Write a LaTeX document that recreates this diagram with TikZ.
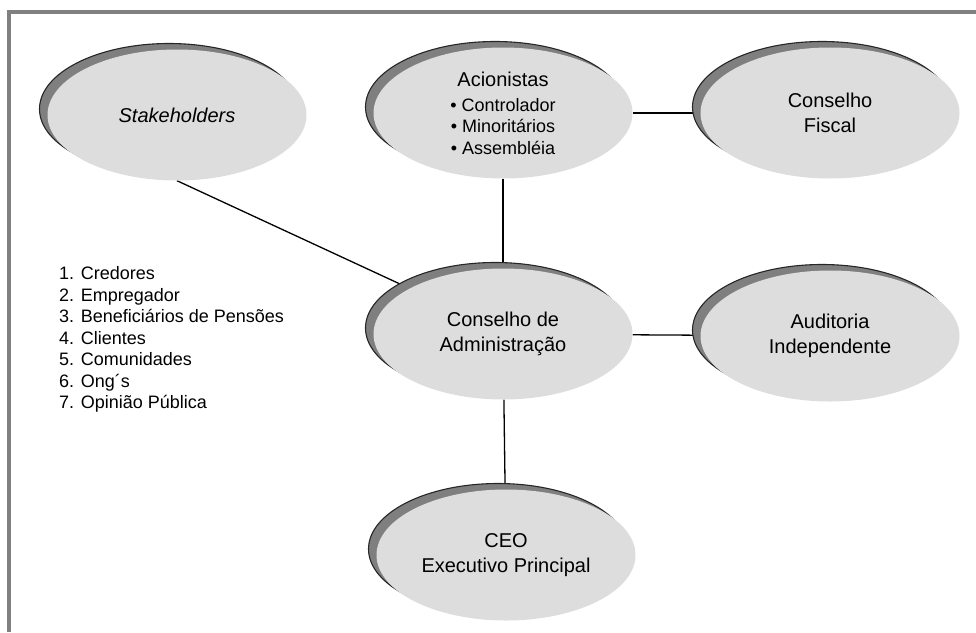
\documentclass[tikz,border=0pt]{standalone}
\usepackage{fontspec}
\setmainfont{Liberation Sans}
\usetikzlibrary{shapes.geometric,shadows,backgrounds}
\definecolor{ellfill}{HTML}{DDDDDD}
\definecolor{shadowgray}{HTML}{7F7F7F}
\definecolor{framegray}{HTML}{808080}
\begin{document}
\begin{tikzpicture}[x=1pt,y=-1pt,
  ell/.style={ellipse, fill=ellfill, minimum width=259pt, minimum height=131pt,
    inner sep=0pt, align=center, font=\fontsize{20}{25}\selectfont,
    general shadow={fill=shadowgray, draw=black!85, line width=1.1pt,
      shadow xshift=-8pt, shadow yshift=6pt}},
  conn/.style={draw=black, line width=1.3pt},
  listtext/.style={anchor=base west, inner sep=0pt, font=\fontsize{18}{21.5}\selectfont}]
\useasboundingbox (0,0) rectangle (976,632);
\fill[framegray] (7,10) rectangle (976,14);
\fill[framegray] (7,10) rectangle (11,632);

\node[ell] (stake) at (177,115) {\textit{Stakeholders}};
\node[ell, font=\fontsize{18}{21.5}\selectfont] (acion) at (503,113)
  {{\fontsize{20}{25}\selectfont Acionistas}\\[3.5pt]
   \textbullet\ Controlador\\ \textbullet\ Minoritários\\ \textbullet\ Assembléia};
\node[ell] (fiscal) at (830,113) {Conselho\\Fiscal};
\node[ell] (adm) at (503,334) {Conselho de\\Administração};
\node[ell] (aud) at (830,336) {Auditoria\\Independente};
\node[ell] (ceo) at (506,555) {CEO\\Executivo Principal};

\foreach [count=\i] \t in {Credores, Empregador, Beneficiários de Pensões,
  Clientes, Comunidades, Ong´s, Opinião Pública}
  \node[listtext] (item\i) at (59, {279.5+21.5*(\i-1)}) {\i. \t};

\begin{pgfonlayer}{background}
\draw[conn] (stake.south) -- (adm.154);
\draw[conn] (acion) -- (adm);
\draw[conn] (acion) -- (fiscal);
\draw[conn] (adm) -- (aud);
\draw[conn] (adm) -- (ceo);
\end{pgfonlayer}
\end{tikzpicture}
\end{document}
